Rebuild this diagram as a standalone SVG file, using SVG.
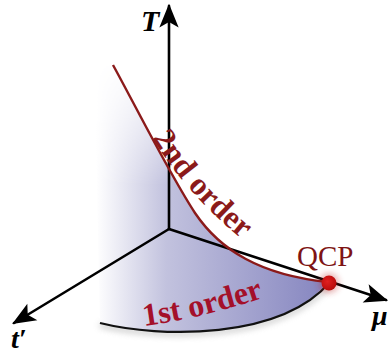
<svg xmlns="http://www.w3.org/2000/svg" width="388" height="356" viewBox="0 0 388 356">
  <defs>
    <style>
      .axis { fill: none; stroke: #000; stroke-width: 2.6; stroke-linecap: round; }
      .edge { fill: none; stroke: #111; stroke-width: 2.2; }
      .crit { fill: none; stroke: #8b1a1a; stroke-width: 2.4; }
      .lbl { font-family: "Liberation Serif", serif; }
      .axlbl { font-family: "Liberation Serif", serif; font-style: italic; font-weight: bold; fill: #000; }
      .order { font-family: "Liberation Serif", serif; font-weight: bold; font-size: 32px; }
    </style>
    <linearGradient id="shade" gradientUnits="userSpaceOnUse" x1="96" y1="0" x2="330" y2="0">
      <stop offset="0" stop-color="#ffffff"/>
      <stop offset="0.3" stop-color="#c2c2de"/>
      <stop offset="1" stop-color="#8484bf"/>
    </linearGradient>
    <linearGradient id="vfade" gradientUnits="userSpaceOnUse" x1="0" y1="60" x2="0" y2="185">
      <stop offset="0" stop-color="#fff" stop-opacity="0"/>
      <stop offset="1" stop-color="#fff" stop-opacity="1"/>
    </linearGradient>
    <mask id="fadeMask" maskUnits="userSpaceOnUse" x="0" y="0" width="388" height="356">
      <rect x="0" y="0" width="388" height="356" fill="url(#vfade)"/>
    </mask>
    <filter id="blur" x="-50%" y="-50%" width="200%" height="200%">
      <feGaussianBlur stdDeviation="3"/>
    </filter>
    <radialGradient id="dot" cx="0.4" cy="0.4" r="0.6">
      <stop offset="0" stop-color="#e02020"/>
      <stop offset="1" stop-color="#b80c0c"/>
    </radialGradient>
    <marker id="arr" markerUnits="userSpaceOnUse" markerWidth="30" markerHeight="30" viewBox="-24 -12 28 24" refX="0" refY="0" orient="auto">
      <path d="M2,0 L-20,-9 L-15,0 L-20,9 Z" fill="#000"/>
    </marker>
    <path id="p2nd" d="M152,138 Q192,202 256,250"/>
    <path id="p1st" d="M144,326 Q205,318 274,294"/>
  </defs>

  <g id="surface">
    <path d="M100,325 C160,340 280,342 330,284" fill="none" stroke="#999" stroke-width="4" filter="url(#blur)" opacity="0.6"/>
    <path d="M113,65 C135,105 170,175 195,213 C220,250 260,275 328,282 C280,340 160,338 100,323 L94,65 Z" fill="url(#shade)" mask="url(#fadeMask)"/>
  </g>

  <g id="connectors">
    <line id="axis-T" class="axis" x1="169" y1="229" x2="169" y2="6" marker-end="url(#arr)"/>
    <line id="axis-tp" class="axis" x1="169" y1="229" x2="14" y2="323" marker-end="url(#arr)"/>
    <line id="axis-mu" class="axis" x1="169" y1="229" x2="386" y2="300" marker-end="url(#arr)"/>
    <path id="first-order-line" class="edge" d="M100,323 C160,338 280,340 330,282"/>
    <path id="second-order-line" class="crit" d="M113,65 C135,105 170,175 195,213 C220,250 260,275 328,282"/>
  </g>

  <g id="qcp">
    <circle cx="329" cy="283" r="10" fill="#c02020" opacity="0.35" filter="url(#blur)"/>
    <circle cx="329" cy="283" r="7.5" fill="url(#dot)"/>
    <text class="lbl" x="297" y="266" font-size="29" fill="#7e1414">QCP</text>
  </g>

  <g id="label-2nd">
    <text class="order" fill="#8b1a1a"><textPath href="#p2nd">2nd order</textPath></text>
  </g>
  <g id="label-1st">
    <text class="order" fill="#a4102a"><textPath href="#p1st">1st order</textPath></text>
  </g>

  <g id="label-T"><text class="axlbl" x="141" y="31" font-size="30">T</text></g>
  <g id="label-tp"><text class="axlbl" x="11" y="348" font-size="28">t′</text></g>
  <g id="label-mu"><text class="axlbl" x="372" y="325" font-size="28">μ</text></g>
</svg>
